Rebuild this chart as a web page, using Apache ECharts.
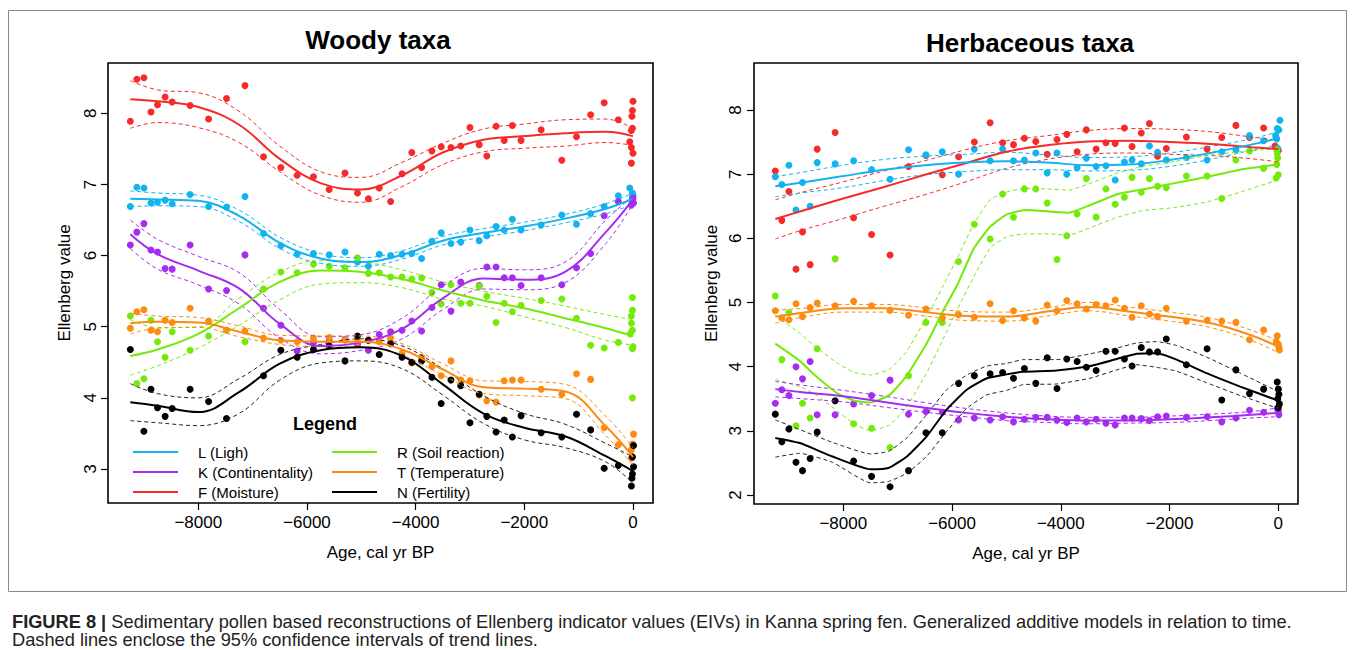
<!DOCTYPE html>
<html>
<head>
<meta charset="utf-8">
<script src="https://cdn.jsdelivr.net/npm/echarts@6/dist/echarts.min.js"></script>
<style>
html,body{margin:0;padding:0;background:#fff;}
#c{width:1355px;height:650px;}
</style>
</head>
<body>
<div id="c"></div>
<script>
// ---------------- DATA ----------------
const xTicks = [-8000, -6000, -4000, -2000, 0];
const yTicksWoody = [3, 4, 5, 6, 7, 8];
const yTicksHerb = [2, 3, 4, 5, 6, 7, 8];
const legendNames = ['L (Ligh)', 'K (Continentality)', 'F (Moisture)', 'R (Soil reaction)', 'T (Temperature)', 'N (Fertility)'];

// ages at which fitted trend lines are sampled
const fitAges = [-9250,-8750,-8000,-7250,-6500,-5750,-5000,-4250,-3500,-2750,-2000,-1250,-500,0];
const herbRAges = [-9250,-8800,-8500,-8100,-7800,-7500,-7150,-6850,-6480,-6170,-5900,-5600,-5300,-5000,-4650,-4250,-3850,-3450,-2950,-2500,-1900,-1300,-700,0];
const herbNAges = [-9250,-8800,-8200,-7500,-7170,-6830,-6470,-6100,-5730,-5360,-5000,-4690,-4080,-3460,-2970,-2600,-2240,-1870,-1320,-700,0];

// ---- Woody taxa: observed points [age, value]
const woodyL_pts = [[-9250,6.69],[-9130,6.96],[-9000,6.95],[-8870,6.74],[-8750,6.75],[-8610,6.78],[-8480,6.73],[-8150,6.86],[-7810,6.69],[-7480,6.68],[-7140,6.83],[-6800,6.31],[-6480,6.14],[-6180,6.02],[-5880,6.03],[-5590,6.01],[-5300,6.05],[-5070,5.91],[-4870,5.85],[-4670,6.02],[-4460,6.00],[-4250,6.02],[-4070,6.03],[-3890,5.96],[-3700,6.20],[-3530,6.32],[-3350,6.17],[-3170,6.19],[-3000,6.36],[-2830,6.21],[-2690,6.28],[-2520,6.41],[-2370,6.36],[-2220,6.51],[-2060,6.36],[-1690,6.43],[-1310,6.57],[-1040,6.44],[-780,6.59],[-530,6.69],[-270,6.84],[-60,6.95],[-10,6.88],[0,6.85],[-10,6.82]];
const woodyK_pts = [[-9250,6.15],[-9130,6.33],[-9000,6.45],[-8870,6.08],[-8750,6.05],[-8610,5.82],[-8480,5.81],[-8150,6.15],[-7810,5.53],[-7480,5.51],[-7140,6.01],[-6800,5.26],[-6480,5.02],[-6180,4.66],[-5880,4.78],[-5590,4.80],[-5300,4.82],[-5070,4.75],[-4870,4.67],[-4670,4.89],[-4460,4.93],[-4250,4.95],[-4070,5.08],[-3890,4.94],[-3700,5.27],[-3530,5.59],[-3350,5.22],[-3170,5.63],[-2830,5.58],[-2690,5.84],[-2520,5.84],[-2370,5.69],[-2220,5.69],[-2060,5.58],[-1690,5.69],[-1310,5.59],[-1040,5.83],[-780,6.03],[-530,6.56],[-270,6.76],[-30,6.71],[-10,6.76],[0,6.81],[10,6.74]];
const woodyF_pts = [[-9250,7.89],[-9130,8.48],[-9000,8.50],[-8870,8.02],[-8750,8.12],[-8610,8.23],[-8480,8.16],[-8150,8.11],[-7810,7.92],[-7480,8.21],[-7140,8.39],[-6800,7.39],[-6480,7.24],[-6180,7.13],[-5880,7.11],[-5590,6.93],[-5300,7.16],[-5070,6.88],[-4870,6.80],[-4670,6.95],[-4460,6.76],[-4250,7.15],[-4070,7.45],[-3890,7.24],[-3700,7.47],[-3530,7.53],[-3350,7.52],[-3170,7.54],[-3000,7.80],[-2830,7.56],[-2690,7.40],[-2520,7.82],[-2370,7.62],[-2220,7.83],[-2060,7.62],[-1690,7.77],[-1310,7.34],[-1040,7.67],[-780,7.98],[-530,8.15],[-270,7.91],[0,8.17],[-10,8.04],[-20,7.96],[-10,7.79],[-30,7.76],[-60,7.60],[-30,7.52],[0,7.44],[-30,7.30]];
const woodyR_pts = [[-9250,5.15],[-9130,4.20],[-9000,4.27],[-8870,5.09],[-8750,4.79],[-8610,4.57],[-8480,4.93],[-8150,4.67],[-7810,4.87],[-7480,4.95],[-7140,4.79],[-6800,5.53],[-6480,5.77],[-6180,5.76],[-5880,5.88],[-5590,5.85],[-5300,5.83],[-5070,5.97],[-4870,5.75],[-4670,5.76],[-4460,5.70],[-4250,5.70],[-4070,5.67],[-3890,5.69],[-3700,5.48],[-3530,5.32],[-3350,5.59],[-3170,5.33],[-3000,5.33],[-2830,5.57],[-2690,5.43],[-2520,5.06],[-2370,5.33],[-2220,5.21],[-2060,5.30],[-1690,5.37],[-1310,5.39],[-1040,5.12],[-780,4.74],[-530,4.70],[-270,4.78],[-10,5.41],[-10,5.23],[-30,5.15],[-30,5.05],[-10,4.95],[-50,4.90],[0,4.72],[-10,4.69],[-10,4.00]];
const woodyT_pts = [[-9250,4.98],[-9130,5.21],[-9000,5.24],[-8870,4.95],[-8750,4.93],[-8610,5.09],[-8480,5.06],[-8150,5.26],[-7810,5.08],[-7480,4.95],[-7140,4.94],[-6800,4.84],[-6480,4.81],[-6180,4.79],[-5880,4.84],[-5590,4.85],[-5300,4.81],[-5070,4.79],[-4870,4.81],[-4670,4.79],[-4460,4.84],[-4250,4.63],[-4070,4.49],[-3890,4.57],[-3700,4.44],[-3530,4.31],[-3350,4.52],[-3170,4.25],[-3000,4.24],[-2830,4.04],[-2690,3.96],[-2520,3.94],[-2370,4.24],[-2220,4.25],[-2060,4.25],[-1690,4.12],[-1310,4.05],[-1040,4.34],[-780,4.26],[-530,3.58],[-270,3.34],[10,3.49],[-10,3.35],[-30,3.27],[-30,3.15]];
const woodyN_pts = [[-9250,4.68],[-9000,3.53],[-8870,4.12],[-8750,3.86],[-8610,3.74],[-8480,3.85],[-8150,4.12],[-7810,3.95],[-7480,3.71],[-6800,4.31],[-6480,4.67],[-6180,4.57],[-5880,4.68],[-5590,4.73],[-5300,4.52],[-5070,4.87],[-4870,4.81],[-4670,4.61],[-4460,4.76],[-4250,4.57],[-4070,4.50],[-3890,4.52],[-3700,4.29],[-3530,3.92],[-3350,4.25],[-3170,4.17],[-3000,3.65],[-2830,4.05],[-2690,3.74],[-2520,3.52],[-2370,3.69],[-2220,3.45],[-2060,3.75],[-1690,3.51],[-1310,3.45],[-1040,3.77],[-780,3.55],[-530,3.01],[-270,3.05],[10,3.33],[-10,3.17],[10,3.03],[-10,2.93],[-20,2.87],[-30,2.76]];

// ---- Woody taxa: fitted trends and 95% CI (at fitAges)
const woodyL_fit = [6.80,6.79,6.77,6.56,6.18,5.96,5.91,6.01,6.21,6.32,6.41,6.52,6.66,6.80];
const woodyL_hi  = [6.91,6.88,6.85,6.64,6.26,6.03,5.97,6.07,6.27,6.38,6.47,6.58,6.73,6.88];
const woodyL_lo  = [6.69,6.70,6.69,6.48,6.10,5.89,5.85,5.95,6.15,6.26,6.35,6.46,6.59,6.72];
const woodyK_fit = [6.30,6.02,5.79,5.54,5.04,4.73,4.78,4.97,5.40,5.68,5.66,5.77,6.33,6.79];
const woodyK_hi  = [6.50,6.23,5.99,5.76,5.24,4.86,4.89,5.12,5.57,5.82,5.80,5.91,6.50,6.84];
const woodyK_lo  = [6.10,5.81,5.59,5.32,4.84,4.62,4.67,4.83,5.24,5.53,5.52,5.62,6.17,6.73];
const woodyF_fit = [8.20,8.17,8.09,7.84,7.36,7.02,6.93,7.13,7.45,7.63,7.68,7.72,7.74,7.68];
const woodyF_hi  = [8.46,8.33,8.29,8.03,7.54,7.18,7.10,7.31,7.58,7.78,7.85,7.91,7.92,7.79];
const woodyF_lo  = [7.79,7.87,7.80,7.59,7.18,6.85,6.75,6.97,7.28,7.46,7.51,7.54,7.59,7.55];
const woodyR_fit = [4.59,4.68,4.90,5.26,5.63,5.79,5.77,5.67,5.51,5.37,5.26,5.12,4.98,4.87];
const woodyR_hi  = [5.10,4.99,5.00,5.40,5.77,5.93,5.91,5.80,5.63,5.50,5.40,5.29,5.17,5.10];
const woodyR_lo  = [4.32,4.45,4.70,5.02,5.38,5.60,5.62,5.55,5.39,5.29,5.14,4.99,4.81,4.74];
const woodyT_fit = [5.05,5.07,5.06,4.93,4.81,4.79,4.79,4.68,4.40,4.15,4.13,4.09,3.60,3.17];
const woodyT_hi  = [5.19,5.15,5.13,5.01,4.88,4.87,4.87,4.76,4.48,4.24,4.23,4.19,3.74,3.30];
const woodyT_lo  = [4.90,4.98,4.99,4.86,4.75,4.72,4.71,4.60,4.32,4.06,4.03,3.99,3.47,3.05];
const woodyN_fit = [3.94,3.89,3.80,4.08,4.48,4.67,4.71,4.59,4.19,3.78,3.58,3.46,3.18,2.97];
const woodyN_hi  = [4.20,4.06,4.00,4.27,4.61,4.75,4.83,4.73,4.41,4.03,3.78,3.63,3.36,3.17];
const woodyN_lo  = [3.68,3.65,3.61,3.78,4.25,4.49,4.52,4.41,4.04,3.64,3.41,3.30,3.10,2.80];

// ---- Herbaceous taxa: observed points [age, value]
const herbL_pts = [[-9250,6.96],[-9130,6.84],[-9000,7.14],[-8870,6.44],[-8750,6.87],[-8610,6.50],[-8480,7.18],[-8150,7.16],[-7810,7.21],[-7480,7.07],[-7140,6.92],[-6800,7.38],[-6480,7.30],[-6180,7.35],[-5880,7.00],[-5590,7.39],[-5300,7.21],[-5070,7.39],[-4870,7.21],[-4670,7.22],[-4460,7.33],[-4250,7.02],[-4070,7.33],[-3890,7.00],[-3700,7.10],[-3530,7.25],[-3350,7.12],[-3170,7.13],[-3000,6.91],[-2830,7.19],[-2690,7.22],[-2520,7.16],[-2370,7.44],[-2220,7.34],[-2060,7.22],[-1690,7.26],[-1310,7.22],[-1040,7.35],[-780,7.38],[-530,7.60],[-270,7.52],[30,7.84],[-20,7.71],[10,7.69],[-50,7.60],[-30,7.55],[-10,7.40]];
const herbK_pts = [[-9250,3.43],[-9130,3.64],[-9000,3.55],[-8870,4.00],[-8750,3.81],[-8610,4.08],[-8480,3.25],[-8150,3.25],[-7810,3.42],[-7480,3.55],[-7140,3.79],[-6800,3.26],[-6480,3.30],[-6180,3.29],[-5880,3.17],[-5590,3.20],[-5300,3.17],[-5070,3.22],[-4870,3.14],[-4670,3.18],[-4460,3.21],[-4250,3.21],[-4070,3.17],[-3890,3.13],[-3700,3.20],[-3530,3.14],[-3350,3.18],[-3170,3.12],[-3000,3.09],[-2830,3.20],[-2690,3.20],[-2520,3.19],[-2370,3.16],[-2220,3.22],[-2060,3.23],[-1690,3.21],[-1310,3.22],[-1040,3.14],[-780,3.20],[-530,3.32],[-270,3.29],[-20,3.35],[0,3.30],[10,3.25]];
const herbF_pts = [[-9250,7.05],[-9130,6.28],[-9000,6.73],[-8870,5.52],[-8750,6.10],[-8610,5.59],[-8480,7.39],[-8150,7.65],[-7810,6.32],[-7480,6.06],[-7140,5.74],[-6800,7.12],[-6480,7.29],[-6180,6.99],[-5880,7.27],[-5590,7.50],[-5300,7.80],[-5070,7.49],[-4870,7.46],[-4670,7.56],[-4460,7.51],[-4250,7.31],[-4070,7.54],[-3890,7.62],[-3700,7.35],[-3530,7.69],[-3350,7.39],[-3170,7.49],[-3000,7.48],[-2830,7.72],[-2690,7.43],[-2520,7.64],[-2370,7.79],[-2220,7.28],[-2060,7.40],[-1690,7.58],[-1310,7.39],[-1040,7.57],[-780,7.76],[-530,7.57],[-270,7.72],[-60,7.44],[0,7.37]];
const herbR_pts = [[-9250,5.10],[-9130,4.11],[-9000,4.84],[-8870,3.08],[-8750,3.43],[-8610,3.20],[-8480,4.28],[-8150,5.68],[-7810,3.11],[-7480,3.04],[-7140,2.74],[-6800,3.86],[-6480,4.69],[-6180,4.69],[-5880,5.64],[-5590,6.22],[-5300,5.99],[-5070,6.69],[-4870,6.33],[-4670,6.77],[-4460,6.77],[-4250,6.55],[-4070,5.67],[-3890,6.04],[-3700,6.38],[-3530,6.93],[-3350,6.33],[-3170,6.77],[-3000,6.53],[-2830,6.64],[-2690,6.95],[-2520,6.72],[-2370,6.93],[-2220,6.81],[-2060,6.79],[-1690,6.97],[-1310,6.97],[-1040,6.62],[-780,7.22],[-530,7.36],[-270,7.09],[-30,7.38],[-20,7.32],[-10,7.25],[-30,7.15],[0,6.99],[-40,6.94]];
const herbT_pts = [[-9250,4.87],[-9130,4.76],[-9000,4.73],[-8870,4.98],[-8750,4.78],[-8610,4.92],[-8480,4.99],[-8150,4.95],[-7810,5.02],[-7480,4.95],[-7140,4.88],[-6800,4.80],[-6480,4.90],[-6180,4.76],[-5880,4.81],[-5590,4.77],[-5300,4.98],[-5070,4.72],[-4870,4.87],[-4670,4.76],[-4460,4.71],[-4250,4.96],[-4070,4.87],[-3890,5.03],[-3700,4.98],[-3530,4.90],[-3350,4.97],[-3170,4.95],[-3000,5.04],[-2830,4.91],[-2690,4.77],[-2520,4.95],[-2370,4.82],[-2220,4.78],[-2060,4.91],[-1690,4.71],[-1310,4.72],[-1040,4.71],[-780,4.69],[-530,4.42],[-270,4.57],[-20,4.48],[-40,4.39],[0,4.35],[10,4.30],[20,4.26]];
const herbN_pts = [[-9250,3.26],[-9130,2.83],[-9000,3.03],[-8870,2.51],[-8750,2.38],[-8610,2.57],[-8480,2.98],[-8150,3.47],[-7810,2.53],[-7480,2.29],[-7140,2.13],[-6800,2.38],[-6480,2.97],[-6180,2.97],[-5880,3.74],[-5590,3.86],[-5300,3.89],[-5070,3.91],[-4870,3.82],[-4670,3.97],[-4460,3.74],[-4250,4.14],[-4070,3.66],[-3890,4.12],[-3700,4.08],[-3530,3.99],[-3350,3.94],[-3170,4.24],[-3000,4.24],[-2830,4.12],[-2690,4.01],[-2520,4.30],[-2370,4.23],[-2220,4.23],[-2060,4.43],[-1690,4.03],[-1310,4.28],[-1040,3.48],[-780,3.95],[-530,3.58],[-270,3.65],[-20,3.76],[0,3.65],[10,3.57],[-10,3.50],[20,3.42],[0,3.36]];

// ---- Herbaceous taxa: fitted trends and 95% CI
const herbL_fit = [6.81,6.87,6.97,7.07,7.14,7.18,7.20,7.18,7.14,7.15,7.22,7.33,7.46,7.56];
const herbL_hi  = [6.96,7.03,7.14,7.23,7.28,7.31,7.34,7.30,7.26,7.27,7.33,7.43,7.55,7.66];
const herbL_lo  = [6.65,6.71,6.79,6.90,6.99,7.04,7.07,7.07,7.05,7.06,7.12,7.23,7.37,7.45];
const herbK_fit = [3.65,3.60,3.54,3.45,3.36,3.28,3.22,3.18,3.16,3.16,3.18,3.21,3.25,3.28];
const herbK_hi  = [3.77,3.71,3.63,3.54,3.44,3.35,3.28,3.23,3.21,3.21,3.23,3.26,3.30,3.36];
const herbK_lo  = [3.53,3.50,3.45,3.37,3.29,3.22,3.16,3.13,3.11,3.12,3.13,3.16,3.20,3.22];
const herbF_fit = [6.30,6.43,6.62,6.80,6.99,7.17,7.35,7.45,7.51,7.52,7.50,7.47,7.42,7.39];
const herbF_hi  = [6.60,6.72,6.88,7.05,7.21,7.38,7.52,7.60,7.68,7.71,7.70,7.66,7.58,7.53];
const herbF_lo  = [5.99,6.13,6.31,6.50,6.68,6.88,7.09,7.23,7.31,7.33,7.31,7.29,7.24,7.19];
const herbT_fit = [4.78,4.84,4.91,4.91,4.85,4.79,4.78,4.86,4.93,4.86,4.78,4.68,4.49,4.31];
const herbT_hi  = [4.88,4.91,4.97,4.97,4.92,4.86,4.85,4.92,5.00,4.93,4.85,4.76,4.57,4.40];
const herbT_lo  = [4.68,4.77,4.85,4.85,4.79,4.72,4.71,4.79,4.87,4.79,4.71,4.61,4.41,4.22];
// at herbRAges
const herbR_fit = [4.36,4.09,3.85,3.58,3.47,3.44,3.56,3.84,4.34,4.86,5.28,5.84,6.18,6.37,6.44,6.42,6.40,6.52,6.69,6.76,6.86,6.96,7.07,7.15];
const herbR_hi  = [4.80,4.52,4.30,4.05,3.91,3.87,3.96,4.22,4.75,5.25,5.70,6.22,6.60,6.72,6.78,6.77,6.75,6.86,7.02,7.12,7.20,7.29,7.35,7.40];
const herbR_lo  = [3.80,3.69,3.56,3.30,3.11,3.00,3.09,3.36,3.88,4.42,4.90,5.40,5.85,6.02,6.07,6.07,6.05,6.17,6.33,6.43,6.48,6.57,6.72,6.91];
// at herbNAges
const herbN_fit = [2.89,2.81,2.60,2.40,2.42,2.60,2.91,3.33,3.64,3.82,3.88,3.92,3.94,4.01,4.12,4.20,4.21,4.11,3.90,3.69,3.47];
const herbN_hi  = [3.17,3.02,2.82,2.64,2.68,2.89,3.25,3.64,3.87,4.01,4.05,4.11,4.11,4.20,4.29,4.37,4.39,4.33,4.15,3.90,3.61];
const herbN_lo  = [2.59,2.65,2.51,2.19,2.21,2.34,2.60,2.99,3.35,3.56,3.63,3.72,3.73,3.82,3.95,4.03,3.99,3.93,3.75,3.55,3.35];

// ---------------- STYLE ----------------
const FONT = '"Liberation Sans", Arial, Helvetica, sans-serif';
const COL = { L: '#12b3ef', K: '#a62cf0', F: '#f72a2a', R: '#74ea0a', T: '#fd8b12', N: '#000000' };
const DASHCOL = { L: '#12b3ef', K: '#a62cf0', F: '#f72a2a', R: '#74ea0a', T: '#fd8b12', N: '#222222' };

function pairs(ages, vals) { return ages.map((a, i) => [a, vals[i]]); }

const series = [];
function addGroup(gi, key, lname, pts, ages, fit, hi, lo, smooth) {
  series.push({
    name: key + ' pts ' + gi, type: 'scatter', xAxisIndex: gi, yAxisIndex: gi,
    data: pts, symbol: 'circle', symbolSize: 7, z: 2,
    itemStyle: { color: COL[key], opacity: 1 }, silent: true
  });
  [['hi', hi], ['lo', lo]].forEach(([s, arr]) => {
    series.push({
      name: key + ' ' + s + ' ' + gi, type: 'line', xAxisIndex: gi, yAxisIndex: gi,
      data: pairs(ages, arr), showSymbol: false, smooth: smooth, z: 3, silent: true,
      lineStyle: { color: DASHCOL[key], width: 1, type: [4, 3] }
    });
  });
  series.push({
    name: lname, type: 'line', xAxisIndex: gi, yAxisIndex: gi,
    data: pairs(ages, fit), showSymbol: false, smooth: smooth, z: 4, silent: true,
    color: COL[key],
    itemStyle: { color: COL[key] },
    lineStyle: { color: COL[key], width: 2 }
  });
}
const S = 0.4;
addGroup(0, 'F', legendNames[2], woodyF_pts, fitAges, woodyF_fit, woodyF_hi, woodyF_lo, S);
addGroup(0, 'L', legendNames[0], woodyL_pts, fitAges, woodyL_fit, woodyL_hi, woodyL_lo, S);
addGroup(0, 'K', legendNames[1], woodyK_pts, fitAges, woodyK_fit, woodyK_hi, woodyK_lo, S);
addGroup(0, 'R', legendNames[3], woodyR_pts, fitAges, woodyR_fit, woodyR_hi, woodyR_lo, S);
addGroup(0, 'T', legendNames[4], woodyT_pts, fitAges, woodyT_fit, woodyT_hi, woodyT_lo, S);
addGroup(0, 'N', legendNames[5], woodyN_pts, fitAges, woodyN_fit, woodyN_hi, woodyN_lo, S);

addGroup(1, 'F', 'F herb', herbF_pts, fitAges, herbF_fit, herbF_hi, herbF_lo, S);
addGroup(1, 'L', 'L herb', herbL_pts, fitAges, herbL_fit, herbL_hi, herbL_lo, S);
addGroup(1, 'R', 'R herb', herbR_pts, herbRAges, herbR_fit, herbR_hi, herbR_lo, 0.15);
addGroup(1, 'T', 'T herb', herbT_pts, fitAges, herbT_fit, herbT_hi, herbT_lo, S);
addGroup(1, 'K', 'K herb', herbK_pts, fitAges, herbK_fit, herbK_hi, herbK_lo, S);
addGroup(1, 'N', 'N herb', herbN_pts, herbNAges, herbN_fit, herbN_hi, herbN_lo, 0.15);

const minusFmt = v => (v < 0 ? '\u2212' + Math.abs(v) : String(v));

function xAxis(gi, min, max) {
  return {
    type: 'value', gridIndex: gi, min: min, max: max, position: 'bottom',
    axisLine: { show: false, onZero: false }, splitLine: { show: false },
    axisTick: { show: true, inside: false, length: 7, customValues: xTicks, lineStyle: { color: '#000', width: 1.2 } },
    axisLabel: { customValues: xTicks, formatter: minusFmt, fontSize: 17, color: '#000', fontFamily: FONT, margin: 11 },
    name: 'Age, cal yr BP', nameLocation: 'middle', nameGap: 41,
    nameTextStyle: { fontSize: 17, color: '#000', fontFamily: FONT }
  };
}
function yAxis(gi, min, max, ticks, margin, gap) {
  return {
    type: 'value', gridIndex: gi, min: min, max: max, position: 'left',
    axisLine: { show: false, onZero: false }, splitLine: { show: false },
    axisTick: { show: true, inside: false, length: 7, customValues: ticks, lineStyle: { color: '#000', width: 1.2 } },
    axisLabel: { customValues: ticks, rotate: 90, fontSize: 17, color: '#000', fontFamily: FONT, margin: margin },
    name: 'Ellenberg value', nameLocation: 'middle', nameGap: gap,
    nameTextStyle: { fontSize: 17, color: '#000', fontFamily: FONT }
  };
}

const legendCommon = {
  orient: 'vertical', icon: 'rect', itemWidth: 45, itemHeight: 2, itemGap: 2,
  padding: 0, selectedMode: false,
  textStyle: { fontSize: 15, color: '#000', fontFamily: FONT, lineHeight: 18, padding: [0, 0, 0, 15] }
};

const option = {
  animation: false,
  backgroundColor: '#fff',
  grid: [
    { left: 108, top: 63, width: 545, height: 440, show: true, borderColor: '#000', borderWidth: 1.6, backgroundColor: 'transparent' },
    { left: 754, top: 63, width: 544, height: 441, show: true, borderColor: '#000', borderWidth: 1.6, backgroundColor: 'transparent' }
  ],
  xAxis: [xAxis(0, -9661, 368), xAxis(1, -9642, 362)],
  yAxis: [yAxis(0, 2.522, 8.708, yTicksWoody, 9, 35), yAxis(1, 1.86, 8.732, yTicksHerb, 10, 34)],
  legend: [
    Object.assign({ left: 133, top: 443, data: legendNames.slice(0, 3) }, legendCommon),
    Object.assign({ left: 332, top: 443, data: legendNames.slice(3, 6) }, legendCommon)
  ],
  graphic: [
    { type: 'rect', shape: { x: 8.5, y: 10.5, width: 1338, height: 581 }, style: { fill: 'none', stroke: '#8a8a8a', lineWidth: 1 }, silent: true },
    { type: 'text', x: 378, y: 40, style: { text: 'Woody taxa', font: 'bold 26px ' + FONT, fill: '#000', align: 'center', verticalAlign: 'middle' } },
    { type: 'text', x: 1030, y: 43, style: { text: 'Herbaceous taxa', font: 'bold 26px ' + FONT, fill: '#000', align: 'center', verticalAlign: 'middle' } },
    { type: 'text', x: 325, y: 424, style: { text: 'Legend', font: 'bold 18px ' + FONT, fill: '#000', align: 'center', verticalAlign: 'middle' } },
    { type: 'text', x: 12, y: 621, scaleX: 0.96, style: {
        text: '{b|FIGURE 8 |} Sedimentary pollen based reconstructions of Ellenberg indicator values (EIVs) in Kanna spring fen. Generalized additive models in relation to time.',
        font: '19px ' + FONT, fill: '#222', align: 'left', verticalAlign: 'middle',
        rich: { b: { fontWeight: 'bold', fontSize: 19, fontFamily: FONT, fill: '#222' } } } },
    { type: 'text', x: 12, y: 639, scaleX: 0.96, style: {
        text: 'Dashed lines enclose the 95% confidence intervals of trend lines.',
        font: '19px ' + FONT, fill: '#222', align: 'left', verticalAlign: 'middle' } }
  ],
  series: series
};

const chart = echarts.init(document.getElementById('c'), null, { renderer: 'svg', width: 1355, height: 650 });
chart.setOption(option);
</script>
</body>
</html>
